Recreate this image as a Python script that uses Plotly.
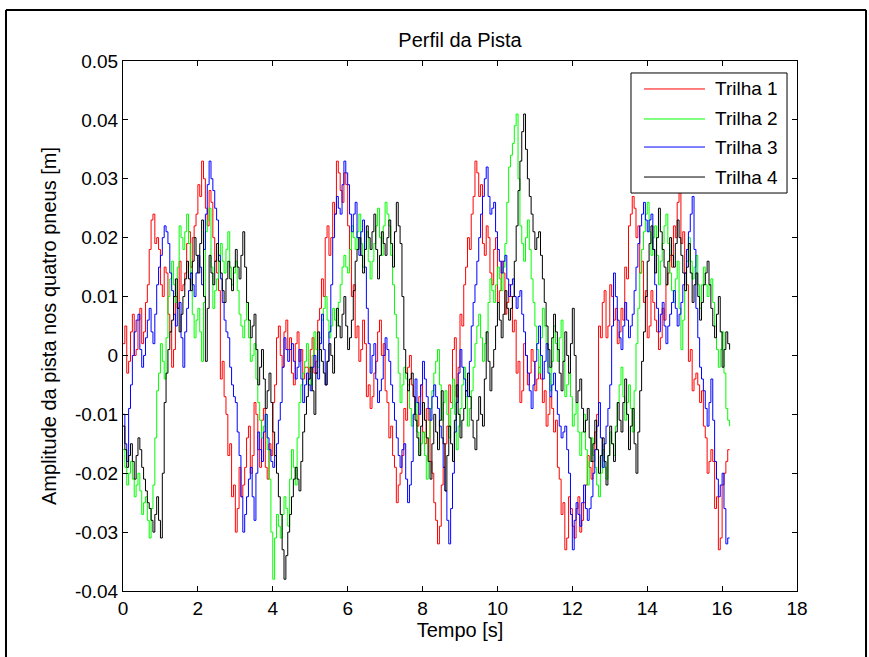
import plotly.graph_objects as go

# time step of the sampled track profile [s]
DT = 0.05

# Track amplitude in millimetres, one sample every DT seconds
trilha_1_mm = [2, 5, -3, -1, 4, 7, 0, 1, 6, 8,
               2, 4, 9, 12, 18, 23, 24, 19, 20, 18,
               12, 10, 15, 14, 7, 4, -2, 1, 10, 8,
               16, 11, 12, 14, 19, 21, 15, 20, 22, 24,
               29, 27, 33, 30, 25, 22, 28, 26, 20, 16,
               14, 11, -4, -1, -7, -10, -17, -15, -24, -22,
               -30, -26, -19, -24, -22, -19, -14, -12, -20, -17,
               -8, -10, -16, -19, -11, -9, -19, -21, -15, -17,
               -8, -5, 3, 5, 0, -2, 4, 6, 1, 3,
               -3, -5, 2, 4, -1, 1, -4, -2, -2, -4,
               1, 3, -3, -1, 6, 8, 13, 10, 20, 22,
               17, 20, 26, 24, 33, 31, 28, 26, 31, 29,
               22, 18, 10, 12, 3, 5, -1, 1, 6, 2,
               -7, -5, -9, -7, -3, -1, 4, 6, 0, 2,
               -6, -8, -14, -12, -17, -19, -25, -22, -20, -17,
               -9, -11, -2, 0, -5, -7, -10, -12, -7, -5,
               -13, -15, -9, -11, -18, -20, -25, -28, -32, -29,
               -22, -19, -15, -12, -5, -8, 1, 3, -7, -2,
               7, 5, 12, 15, 20, 18, 24, 27, 33, 31,
               27, 29, 19, 17, 22, 20, 14, 12, 18, 20,
               9, 11, 16, 14, 7, 9, 12, 10, 4, 6,
               -3, -1, -8, -6, 2, 0, -5, -3, 1, -1,
               -6, -4, -2, -4, -8, -6, -12, -10, -7, -9,
               -13, -11, -19, -21, -27, -25, -33, -31, -24, -26,
               -29, -31, -26, -24, -30, -28, -25, -22, -17, -19,
               -21, -18, -13, -10, 5, 3, 9, 11, 3, 5,
               12, 10, 6, 8, 2, 4, 8, 6, 15, 13,
               22, 24, 27, 25, 20, 22, 14, 16, 9, 11,
               3, 5, 11, 9, 6, 4, 1, 3, 8, 6,
               12, 14, 17, 15, 22, 20, 26, 28, 19, 21,
               14, 12, -1, 1, -6, -4, -3, -5, -8, -6,
               -12, -14, -20, -18, -16, -18, -26, -24, -33, -31,
               -22, -20, -18, -16, -16]

trilha_2_mm = [-16, -19, -22, -20, -18, -21, -24, -22, -20, -23, -27, -25, -24, -28, -31, -26, -22, -14, -6, -3,
               2, -1, -4, 3, 10, 13, 16, 12, 9, 15, 22, 20, 18, 21, 24, 19, 14, 7, 3, 6,
               8, 4, -1, 9, 21, 23, 25, 15, 8, 11, 13, 17, 19, 16, 14, 18, 21, 15, 12, 14,
               16, 11, 7, 5, 3, 6, 9, 3, -1, 0, 2, -4, -8, -11, -14, -12, -10, -16, -21, -30,
               -38, -31, -27, -29, -31, -27, -24, -26, -29, -21, -16, -19, -22, -14, -8, -5, -3, -1, 2, -2,
               -5, 0, 4, 1, -2, 3, 6, 8, 10, 6, 3, 5, 8, 6, 5, 9, 12, 15, 17, 15,
               14, 18, 22, 20, 18, 21, 24, 19, 15, 18, 21, 16, 13, 16, 19, 22, 25, 20, 17, 22,
               26, 24, 22, 17, 12, 7, 3, -3, -8, -5, -2, -4, -5, -9, -12, -10, -8, -13, -17, -15,
               -13, -17, -21, -14, -9, -6, -3, -1, 1, -5, -11, -8, -6, -10, -14, -9, -4, -10, -16, -12,
               -9, -5, -2, -7, -12, -9, -6, -2, 2, 5, 7, 3, -1, 2, 4, 9, 13, 11, 9, 12,
               15, 13, 11, 15, 19, 26, 32, 34, 36, 39, 41, 30, 22, 19, 16, 20, 23, 18, 13, 9,
               5, 1, -3, 3, 8, 5, 2, -2, -6, -1, 5, 2, -1, 3, 6, -1, -7, -5, -3, -7,
               -12, -10, -8, -13, -17, -13, -10, -16, -22, -18, -14, -17, -19, -22, -24, -20, -16, -19, -21, -17,
               -13, -15, -17, -12, -8, -5, -2, -7, -11, -8, -5, -9, -13, -6, 2, 8, 14, 18, 21, 24,
               26, 21, 17, 20, 22, 17, 12, 16, 19, 22, 24, 19, 14, 11, 9, 13, 16, 8, 1, 6,
               11, 16, 20, 16, 13, 15, 17, 12, 8, 12, 15, 12, 10, 12, 13, 9, 5, 1, -2, 1,
               4, -3, -9, -11, -12]

trilha_3_mm = [-10, -15, -18, -9, -5, 0, 4, 6, 7, 1, -2, 0, 3, 6, 8, 4, 2, 7, 12, 15,
               17, 20, 22, 21, 19, 14, 11, 7, 5, 8, 9, 3, -2, 4, 8, 11, 14, 12, 10, 14,
               17, 15, 12, 18, 24, 29, 33, 30, 28, 25, 23, 17, 13, 9, 6, 4, 3, -2, -5, -7,
               -8, -13, -17, -24, -30, -27, -24, -21, -19, -24, -28, -20, -13, -16, -18, -13, -10, -14, -16, -18,
               -19, -17, -15, -11, -8, -2, 3, 1, -1, 1, 2, -1, -4, -2, 1, -4, -8, -5, -3, -5,
               -6, -2, 0, -3, -4, 2, 7, 1, -5, -1, 4, 12, 20, 24, 27, 25, 24, 29, 33, 31,
               29, 24, 21, 24, 26, 20, 17, 21, 23, 15, 8, 2, -3, 0, 2, -4, -8, -6, -4, 0,
               3, 1, -1, -5, -8, -11, -14, -17, -19, -16, -15, -21, -25, -22, -18, -10, -4, -8, -10, -5,
               -1, -4, -7, -9, -11, -7, -5, -7, -9, -12, -14, -19, -23, -28, -32, -26, -20, -13, -8, -3,
               1, -2, -4, -6, -7, -1, 5, 9, 12, 16, 20, 24, 27, 30, 32, 27, 24, 25, 26, 21,
               18, 16, 14, 16, 17, 13, 10, 12, 13, 10, 8, 10, 11, 7, 4, 0, -3, -6, -9, -5,
               -1, 2, 5, 0, -4, -1, 2, -3, -7, -5, -3, -6, -10, -12, -14, -13, -12, -16, -20, -27,
               -33, -28, -25, -27, -29, -25, -22, -26, -28, -26, -24, -20, -16, -12, -8, -14, -19, -15, -12, -9,
               -5, 5, 14, 10, 6, 3, 1, 5, 9, 6, 3, 5, 7, 11, 15, 19, 22, 24, 26, 23,
               21, 23, 24, 18, 12, 8, 4, 7, 9, 5, 2, 5, 7, 9, 11, 8, 5, 7, 9, 12,
               14, 18, 21, 24, 27, 18, 8, 3, -2, -4, -6, -9, -12, -8, -4, -11, -18, -21, -24, -22,
               -20, -26, -32, -31, -31]

trilha_4_mm = [-12, -16, -19, -17, -15, -18, -21, -17, -14, -16, -19, -21, -23, -25, -26, -28, -30, -27, -24, -28,
               -31, -20, -8, -3, 1, 4, 6, 10, 13, 8, 4, 7, 10, 13, 16, 13, 11, 16, 20, 17,
               14, 19, 23, 10, -1, 8, 17, 14, 12, 16, 19, 16, 14, 11, 9, 13, 16, 13, 11, 15,
               18, 15, 13, 17, 21, 15, 9, 6, 3, 5, 7, 1, -5, -2, 1, -4, -9, -6, -3, -8,
               -13, -17, -20, -24, -27, -33, -38, -34, -30, -27, -24, -21, -19, -21, -23, -18, -13, -10, -7, -4,
               -2, -6, -10, -3, 4, 1, -1, -3, -5, -1, 2, 0, -3, 3, 8, 5, 3, 7, 10, 5,
               1, 3, 6, 11, 16, 18, 20, 17, 14, 18, 22, 20, 18, 21, 24, 18, 13, 17, 21, 19,
               17, 20, 23, 19, 15, 21, 26, 22, 19, 10, 1, -3, -6, -4, -3, -7, -11, -14, -17, -12,
               -8, -11, -14, -18, -21, -15, -10, -13, -16, -11, -6, -15, -23, -17, -12, -15, -18, -11, -5, -10,
               -14, -11, -9, -6, -3, -7, -11, -14, -16, -11, -7, -10, -12, -4, 4, -1, -6, -2, 1, 5,
               9, 6, 3, 7, 11, 8, 6, 8, 10, 16, 22, 28, 33, 38, 41, 35, 30, 27, 24, 21,
               18, 20, 21, 17, 13, 9, 5, 1, -2, 3, 7, 4, 1, -3, -6, -1, 4, 0, -3, 2,
               8, 0, -8, -6, -4, -9, -13, -11, -9, -14, -18, -15, -11, -16, -20, -17, -14, -18, -22, -17,
               -12, -15, -18, -13, -8, -11, -13, -8, -4, -10, -16, -12, -9, -15, -20, -13, -6, -1, 4, 10,
               16, 19, 22, 18, 14, 20, 25, 21, 18, 15, 12, 16, 20, 17, 15, 19, 23, 20, 17, 14,
               11, 15, 19, 14, 9, 12, 14, 10, 6, 9, 12, 14, 16, 12, 8, 5, 3, 7, 10, 4,
               -2, 1, 4, 2, 1]

series_names = ["Trilha 1", "Trilha 2", "Trilha 3", "Trilha 4"]
series_values_mm = [trilha_1_mm, trilha_2_mm, trilha_3_mm, trilha_4_mm]
series_colors = ["#ff0000", "#00ff00", "#0000ff", "#000000"]

x_tick_values = [0, 2, 4, 6, 8, 10, 12, 14, 16, 18]
y_tick_values = [-0.04, -0.03, -0.02, -0.01, 0, 0.01, 0.02, 0.03, 0.04, 0.05]
y_tick_labels = ["-0.04", "-0.03", "-0.02", "-0.01", "0", "0.01", "0.02", "0.03", "0.04", "0.05"]

FONT = "Liberation Sans, Arial, Helvetica, sans-serif"

fig = go.Figure()
for name, vals, col in zip(series_names, series_values_mm, series_colors):
    t = [i * DT for i in range(len(vals))]
    y = [v / 1000.0 for v in vals]
    fig.add_trace(go.Scatter(x=t, y=y, mode="lines", name=name, showlegend=False,
                             line=dict(color=col, width=1, shape="hv")))

fig.update_layout(
    width=869, height=657,
    margin=dict(l=123, r=72, t=61, b=66),
    paper_bgcolor="white", plot_bgcolor="white",
    font=dict(family=FONT, size=19, color="black"),
    title=dict(text="Perfil da Pista", x=0.5, xref="paper", xanchor="center",
               y=1 - 40 / 657, yref="container", yanchor="middle",
               font=dict(family=FONT, size=20, color="black")),
    showlegend=False,
)
fig.update_xaxes(range=[0, 18], tickvals=x_tick_values,
                 ticktext=[str(v) for v in x_tick_values],
                 showgrid=False, zeroline=False, showline=True, linecolor="black",
                 linewidth=1, mirror="allticks", ticks="inside", ticklen=5,
                 tickcolor="black", tickfont=dict(size=19),
                 title=dict(text="Tempo [s]", font=dict(size=20), standoff=4))
fig.update_yaxes(range=[-0.04, 0.05], tickvals=y_tick_values, ticktext=y_tick_labels,
                 showgrid=False, zeroline=False, showline=True, linecolor="black",
                 linewidth=1, mirror="allticks", ticks="inside", ticklen=5,
                 tickcolor="black", tickfont=dict(size=19),
                 title=dict(text="Amplitude da pista nos quatro pneus [m]",
                            font=dict(size=20), standoff=12))

# legend box drawn in the upper-right corner of the axes (paper coordinates)
fig.add_shape(type="rect", xref="paper", yref="paper", x0=0.7537, x1=0.9852,
              y0=0.7509, y1=0.9774, line=dict(color="black", width=1),
              fillcolor="white", layer="above")
legend_rows_y = [0.9472, 0.8906, 0.8377, 0.7811]
for name, col, ry in zip(series_names, series_colors, legend_rows_y):
    fig.add_shape(type="line", xref="paper", yref="paper", x0=0.773, x1=0.8635,
                  y0=ry, y1=ry, line=dict(color=col, width=1), layer="above")
    fig.add_annotation(xref="paper", yref="paper", x=0.8754, y=ry, text=name,
                       showarrow=False, xanchor="left", yanchor="middle",
                       font=dict(family=FONT, size=19, color="black"))

# outer frame of the figure window
frame = dict(color="black", width=2)
fig.add_shape(type="line", xref="paper", yref="paper", x0=-0.1736, x1=1.1024,
              y0=1.0962, y1=1.0962, line=frame)
fig.add_shape(type="line", xref="paper", yref="paper", x0=-0.1736, x1=-0.1736,
              y0=1.0962, y1=-0.14, line=frame)
fig.add_shape(type="line", xref="paper", yref="paper", x0=1.1024, x1=1.1024,
              y0=1.0962, y1=-0.14, line=frame)

fig.write_html("out.html", config={"displayModeBar": False},
               post_script=["document.body.style.margin='0px';"
                            "document.body.style.overflow='hidden';"])
